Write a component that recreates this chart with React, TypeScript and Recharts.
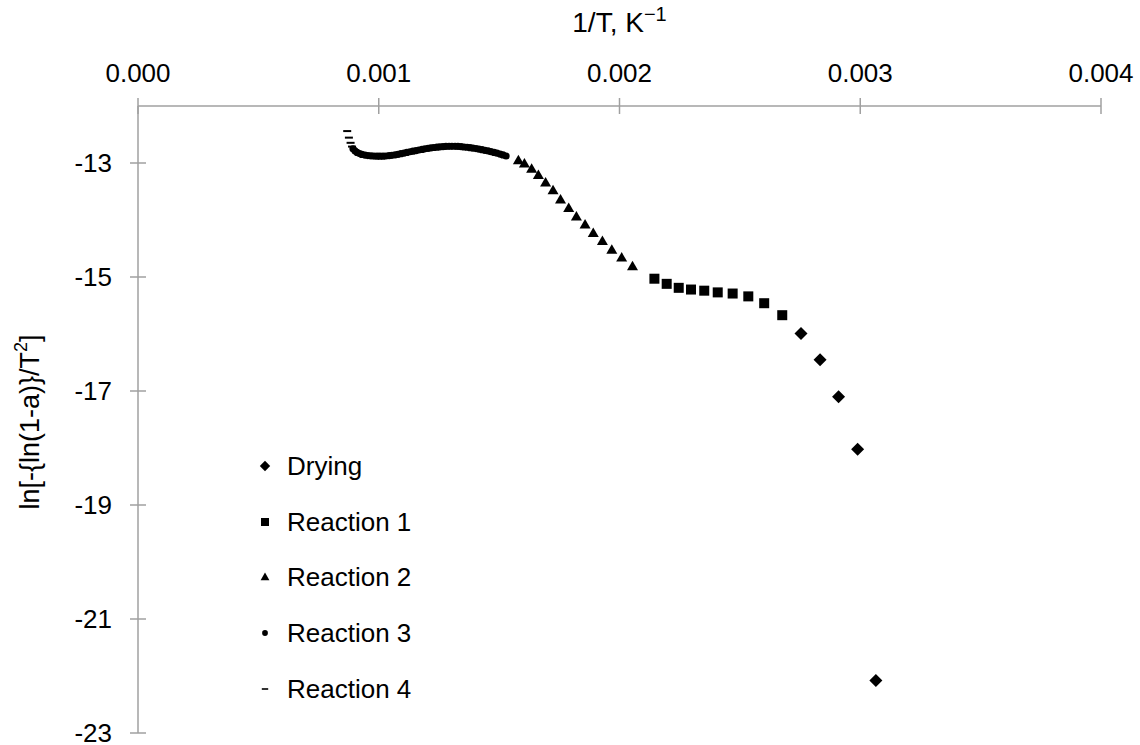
import React from 'react';
import { ScatterChart, Scatter, XAxis, YAxis, Legend } from 'recharts';

const xTicks = [0, 0.001, 0.002, 0.003, 0.004];
const yTicks = [-23, -21, -19, -17, -15, -13];

const dryingX = [0.002754, 0.002833, 0.00291, 0.002989, 0.003065];
const dryingY = [-15.99, -16.45, -17.1, -18.02, -22.08];

const r1X = [0.002145, 0.002196, 0.002246, 0.002297, 0.002352, 0.002408, 0.00247, 0.002535, 0.002601, 0.002676];
const r1Y = [-15.03, -15.12, -15.19, -15.22, -15.24, -15.27, -15.29, -15.34, -15.46, -15.67];

const r2X = [0.00158, 0.001605, 0.001635, 0.001663, 0.001693, 0.001724, 0.001755, 0.001789, 0.001821, 0.001857, 0.001891, 0.001929, 0.001968, 0.002009, 0.002054];
const r2Y = [-12.95, -13.01, -13.1, -13.21, -13.34, -13.48, -13.64, -13.79, -13.94, -14.08, -14.23, -14.37, -14.52, -14.66, -14.81];

const r3X = [
  0.000893, 0.000901, 0.00091, 0.00092, 0.00093, 0.000943, 0.000955, 0.000968, 0.00098, 0.000993,
  0.001005, 0.001018, 0.00103, 0.001043, 0.001055, 0.001068, 0.00108, 0.001092, 0.001105, 0.001117,
  0.00113, 0.001142, 0.001155, 0.001167, 0.00118, 0.001192, 0.001205, 0.001217, 0.001229, 0.001242,
  0.001254, 0.001267, 0.001279, 0.001292, 0.001304, 0.001317, 0.001329, 0.001342, 0.001354, 0.001367,
  0.001379, 0.001391, 0.001404, 0.001416, 0.001429, 0.001441, 0.001454, 0.001466, 0.001479, 0.001491,
  0.001504, 0.001516, 0.001529,
];
const r3Y = [
  -12.752, -12.787, -12.814, -12.835, -12.849, -12.861, -12.87, -12.875, -12.879, -12.88,
  -12.88, -12.88, -12.877, -12.872, -12.865, -12.856, -12.847, -12.837, -12.826, -12.815,
  -12.803, -12.793, -12.782, -12.772, -12.761, -12.752, -12.743, -12.735, -12.728, -12.722,
  -12.717, -12.713, -12.71, -12.708, -12.708, -12.708, -12.71, -12.713, -12.719, -12.724,
  -12.731, -12.738, -12.747, -12.756, -12.766, -12.777, -12.789, -12.801, -12.814, -12.828,
  -12.844, -12.859, -12.877,
];

const r4X = [0.000869, 0.000876, 0.000883, 0.000889];
const r4Y = [-12.44, -12.555, -12.646, -12.712];

const seriesNames = ['Drying', 'Reaction 1', 'Reaction 2', 'Reaction 3', 'Reaction 4'];

const toPoints = (xs: number[], ys: number[]) => xs.map((x, i) => ({ x, y: ys[i] }));

const AXIS = '#a0a0a0';
const FONT = '"Liberation Sans", Arial, Helvetica, sans-serif';
const TEXT = '#000';
const FS = 26;

type Kind = 'diamond' | 'square' | 'triangle' | 'circle' | 'dash';
const kinds: Kind[] = ['diamond', 'square', 'triangle', 'circle', 'dash'];

const markerEl = (kind: Kind, cx: number, cy: number, s: number) => {
  switch (kind) {
    case 'diamond':
      return <polygon points={`${cx},${cy - 6.5 * s} ${cx + 6.5 * s},${cy} ${cx},${cy + 6.5 * s} ${cx - 6.5 * s},${cy}`} fill="#000" />;
    case 'square':
      return <rect x={cx - 5 * s} y={cy - 5 * s} width={10 * s} height={10 * s} fill="#000" />;
    case 'triangle':
      return <polygon points={`${cx},${cy - 5.5 * s} ${cx + 5.5 * s},${cy + 4 * s} ${cx - 5.5 * s},${cy + 4 * s}`} fill="#000" />;
    case 'circle':
      return <circle cx={cx} cy={cy} r={3.6 * s} fill="#000" />;
    default:
      return <rect x={cx - 4 * s} y={cy - 1 * s} width={8 * s} height={2 * s} fill="#000" />;
  }
};

const makeShape = (kind: Kind) => (props: any) => {
  const { cx, cy } = props;
  if (cx == null || cy == null) return <g />;
  return markerEl(kind, cx, cy, 1);
};

const XTick = (props: any) => {
  const { x, y, payload } = props;
  const axisY = y + 8;
  return (
    <g>
      <line x1={x} x2={x} y1={axisY - 8} y2={axisY + 8} stroke={AXIS} strokeWidth={1.5} />
      <text x={x} y={axisY - 24} textAnchor="middle" fontFamily={FONT} fontSize={FS} fill={TEXT}>
        {Number(payload.value).toFixed(3)}
      </text>
    </g>
  );
};

const YTick = (props: any) => {
  const { x, y, payload } = props;
  const axisX = x + 8;
  return (
    <g>
      <line x1={axisX - 8} x2={axisX + 8} y1={y} y2={y} stroke={AXIS} strokeWidth={1.5} />
      <text x={axisX - 26} y={y} dy="0.35em" textAnchor="end" fontFamily={FONT} fontSize={FS} fill={TEXT}>
        {payload.value}
      </text>
    </g>
  );
};

const LegendContent = () => (
  <div style={{ fontFamily: FONT, fontSize: FS, color: TEXT, lineHeight: 1 }}>
    {seriesNames.map((name, i) => (
      <div key={name} style={{ height: 55.75, display: 'flex', alignItems: 'center' }}>
        <svg width={20} height={20} style={{ marginRight: 12, flex: 'none' }}>
          {markerEl(kinds[i], 10, 10, 0.8)}
        </svg>
        <span>{name}</span>
      </div>
    ))}
  </div>
);

export default function App() {
  const datasets = [
    toPoints(dryingX, dryingY),
    toPoints(r1X, r1Y),
    toPoints(r2X, r2Y),
    toPoints(r3X, r3Y),
    toPoints(r4X, r4Y),
  ];
  return (
    <div style={{ position: 'absolute', left: 0, top: 0, width: 1140, height: 745, background: '#fff' }}>
      <ScatterChart width={1140} height={745} margin={{ top: 66, right: 39, bottom: 12, left: 78 }}>
        <XAxis
          type="number"
          dataKey="x"
          orientation="top"
          height={40}
          domain={[0, 0.004]}
          ticks={xTicks}
          allowDataOverflow
          stroke={AXIS}
          strokeWidth={1.5}
          tickLine={false}
          tickSize={8}
          tickMargin={0}
          tick={<XTick />}
        />
        <YAxis
          type="number"
          dataKey="y"
          width={60}
          domain={[-23, -12]}
          ticks={yTicks}
          allowDataOverflow
          stroke={AXIS}
          strokeWidth={1.5}
          tickLine={false}
          tickSize={8}
          tickMargin={0}
          tick={<YTick />}
        />
        <Legend
          layout="vertical"
          align="center"
          verticalAlign="middle"
          content={<LegendContent />}
          wrapperStyle={{ left: 255, top: 438, width: 260, height: 280 }}
        />
        {datasets.map((d, i) => (
          <Scatter
            key={seriesNames[i]}
            name={seriesNames[i]}
            data={d}
            fill="#000"
            shape={makeShape(kinds[i])}
            isAnimationActive={false}
          />
        ))}
        <text x={619.5} y={32} textAnchor="middle" fontFamily={FONT} fontSize={28} fill={TEXT}>
          1/T, K<tspan fontSize={20} dy={-11}>−1</tspan>
        </text>
        <text
          x={30}
          y={422}
          textAnchor="middle"
          dominantBaseline="central"
          transform="rotate(-90, 30, 422)"
          fontFamily={FONT}
          fontSize={27}
          fill={TEXT}
        >
          ln[-{'{'}ln(1-a){'}'}/T<tspan fontSize={18} dy={-9}>2</tspan><tspan dy={9}>]</tspan>
        </text>
      </ScatterChart>
    </div>
  );
}
